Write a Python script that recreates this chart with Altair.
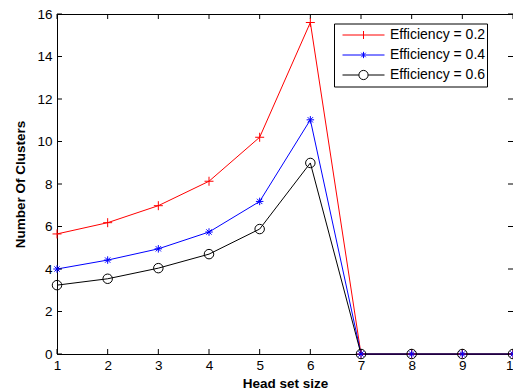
import altair as alt
import pandas as pd

series_names = ["Efficiency = 0.2", "Efficiency = 0.4", "Efficiency = 0.6"]
head_set_size = [1, 2, 3, 4, 5, 6, 7, 8, 9, 10]
eff_02 = [5.65, 6.18, 6.98, 8.13, 10.2, 15.6, 0, 0, 0, 0]
eff_04 = [4.0, 4.42, 4.95, 5.74, 7.18, 11.02, 0, 0, 0, 0]
eff_06 = [3.24, 3.54, 4.04, 4.70, 5.88, 8.99, 0, 0, 0, 0]
x_ticks = list(range(1, 11))
y_ticks = list(range(0, 17, 2))

colors = ["#ff0000", "#0000ff", "#000000"]
marker_paths = [
    "M-0.9,0L0.9,0M0,-0.9L0,0.9",
    "M-0.75,0L0.75,0M0,-0.75L0,0.75M-0.53,-0.53L0.53,0.53M-0.53,0.53L0.53,-0.53",
    "M0.95,0A0.95,0.95 0 1,1 -0.95,0A0.95,0.95 0 1,1 0.95,0Z",
]
legend_paths = [
    "M-1,0L1,0M0,-0.19L0,0.19",
    "M-1,0L1,0M0,-0.15L0,0.15M-0.105,-0.105L0.105,0.105M-0.105,0.105L0.105,-0.105",
    "M-1,0L-0.22,0M0.22,0L1,0M0.22,0A0.22,0.22 0 1,1 -0.22,0A0.22,0.22 0 1,1 0.22,0Z",
]
FONT = "Liberation Sans"
W, H = 456, 340
TICK = 5

rows = []
for name, vals in zip(series_names, [eff_02, eff_04, eff_06]):
    for xv, yv in zip(head_set_size, vals):
        rows.append({"series": name, "x": xv, "value": yv})
df = pd.DataFrame(rows)
xt_df = pd.DataFrame({"t": x_ticks})
yt_df = pd.DataFrame({"t": y_ticks})

xs = alt.Scale(domain=[1, 10], nice=False, zero=False)
ys = alt.Scale(domain=[0, 16], nice=False)
cs = alt.Scale(domain=series_names, range=colors)

x_axis = alt.Axis(values=x_ticks, format="d", ticks=False, grid=False,
                  labelFont=FONT, labelFontSize=13.5, labelColor="black",
                  labelPadding=4, labelFlush=False, labelOverlap=False,
                  domainColor="black", domainWidth=1,
                  title="Head set size", titleFont=FONT, titleFontSize=13.5,
                  titleFontWeight="bold", titleColor="black", titlePadding=5)
y_axis = alt.Axis(values=y_ticks, format="d", ticks=False, grid=False,
                  labelFont=FONT, labelFontSize=13.5, labelColor="black",
                  labelPadding=5, labelFlush=False, labelOverlap=False,
                  domainColor="black", domainWidth=1,
                  title="Number Of Clusters", titleFont=FONT, titleFontSize=13.5,
                  titleFontWeight="bold", titleColor="black", titlePadding=9)

leg = alt.Legend(title=None, orient="none", legendX=277, legendY=9.5,
                 symbolSize=1764, clipHeight=20, rowPadding=0, padding=1.5,
                 symbolOffset=6.5, labelOffset=5, labelFont=FONT,
                 labelFontSize=14, labelColor="black", strokeColor="black",
                 fillColor="white", symbolStrokeWidth=1)

lines = alt.Chart(df).mark_line(strokeWidth=1).encode(
    x=alt.X("x:Q", scale=xs, axis=x_axis),
    y=alt.Y("value:Q", scale=ys, axis=y_axis),
    color=alt.Color("series:N", scale=cs, legend=leg),
    detail="series:N",
)

marker_layers = []
for name, path in zip(series_names, marker_paths):
    marker_layers.append(
        alt.Chart(df).transform_filter(alt.datum.series == name)
        .mark_point(filled=False, size=100, strokeWidth=1, opacity=1)
        .encode(
            x=alt.X("x:Q", scale=xs, axis=x_axis),
            y=alt.Y("value:Q", scale=ys, axis=y_axis),
            color=alt.Color("series:N", scale=cs, legend=leg),
            shape=alt.value(path),
        )
    )

legend_layer = alt.Chart(df).transform_filter("false").mark_point(
    filled=False, strokeWidth=1, opacity=1
).encode(
    x=alt.X("x:Q", scale=xs, axis=x_axis),
    y=alt.Y("value:Q", scale=ys, axis=y_axis),
    color=alt.Color("series:N", scale=cs, legend=leg),
    shape=alt.Shape("series:N", scale=alt.Scale(domain=series_names, range=legend_paths), legend=leg),
)

tick_bottom = alt.Chart(xt_df).mark_rule(color="black", strokeWidth=1).encode(
    x=alt.X("t:Q", scale=xs, axis=x_axis), y=alt.value(H), y2=alt.value(H - TICK))
tick_top = alt.Chart(xt_df).mark_rule(color="black", strokeWidth=1).encode(
    x=alt.X("t:Q", scale=xs, axis=x_axis), y=alt.value(0), y2=alt.value(TICK))
tick_left = alt.Chart(yt_df).mark_rule(color="black", strokeWidth=1).encode(
    y=alt.Y("t:Q", scale=ys, axis=y_axis), x=alt.value(0), x2=alt.value(TICK))
tick_right = alt.Chart(yt_df).mark_rule(color="black", strokeWidth=1).encode(
    y=alt.Y("t:Q", scale=ys, axis=y_axis), x=alt.value(W - TICK), x2=alt.value(W))

chart = alt.layer(
    lines, tick_bottom, tick_top, tick_left, tick_right, *marker_layers, legend_layer
).properties(
    width=W, height=H,
    autosize=alt.AutoSizeParams(type="none"),
    padding={"left": 57, "top": 14, "right": 0, "bottom": 37},
    background="white",
).configure_view(stroke="black", strokeWidth=1)

chart.save("out.html", embed_options={"renderer": "svg", "actions": False})
